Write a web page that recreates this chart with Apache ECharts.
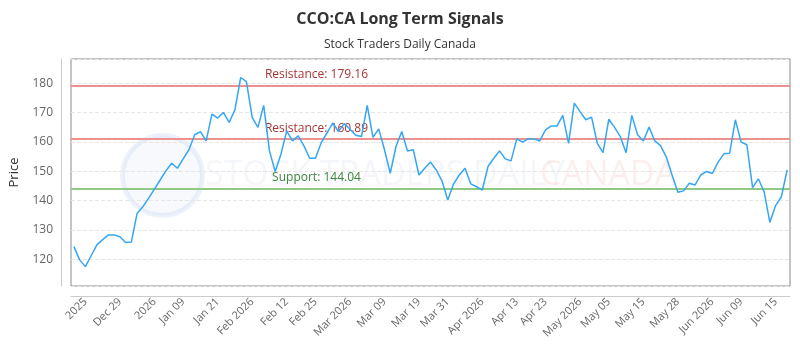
<!DOCTYPE html>
<html>
<head>
<meta charset="utf-8">
<script src="https://cdn.jsdelivr.net/npm/echarts@6/dist/echarts.min.js"></script>
<style>
  html, body { margin: 0; padding: 0; background: #fff; }
  #chart { width: 800px; height: 350px; }
</style>
</head>
<body>
<div id="chart"></div>
<script>
  // closing prices, one per trading day
  var prices = [
    124.3, 119.8, 117.5, 121.2, 124.9, 126.7, 128.3, 128.3, 127.7, 125.7,
    125.9, 135.7, 137.9, 140.8, 143.9, 147.0, 150.1, 152.7, 151.0, 154.2,
    157.3, 162.4, 163.5, 160.3, 169.4, 168.1, 170.0, 166.6, 170.9, 181.9,
    180.5, 168.3, 164.9, 172.4, 156.9, 149.9, 155.8, 163.7, 160.3, 162.0,
    158.6, 154.4, 154.4, 159.7, 163.0, 166.4, 163.5, 166.2, 164.3, 162.2,
    161.8, 172.4, 161.5, 164.4, 157.3, 149.3, 158.4, 163.5, 156.9, 157.3,
    148.7, 151.0, 153.1, 150.4, 146.7, 140.2, 145.6, 148.7, 151.0, 145.7,
    144.7, 143.6, 151.6, 154.4, 156.9, 154.2, 153.5, 161.0, 159.9, 161.0,
    161.0, 160.3, 164.1, 165.4, 165.4, 169.0, 159.5, 173.2, 170.3, 167.5,
    168.4, 159.5, 156.3, 167.7, 164.9, 161.8, 156.3, 169.0, 162.4, 160.3,
    165.0, 160.3, 158.7, 154.8, 148.7, 142.8, 143.3, 145.9, 145.3, 148.7,
    149.9, 149.2, 153.1, 155.9, 156.1, 167.5, 159.9, 159.0, 144.4, 147.4,
    143.0, 132.6, 138.3, 141.3, 150.4
  ];
  var categories = prices.map(function (p, i) { return 'd' + i; });

  // which categories carry a visible date label
  var tickIndex = [2, 8, 14, 19, 25, 31, 37, 42, 48, 54, 60, 65, 71, 77, 82, 88, 93, 99, 105, 111, 116, 122];
  var tickLabels = ['2025', 'Dec 29', '2026', 'Jan 09', 'Jan 21', 'Feb 2026', 'Feb 12', 'Feb 25',
    'Mar 2026', 'Mar 09', 'Mar 19', 'Mar 31', 'Apr 2026', 'Apr 13', 'Apr 23', 'May 2026',
    'May 05', 'May 15', 'May 28', 'Jun 2026', 'Jun 09', 'Jun 15'];

  var resistance = [179.16, 160.89];
  var support = [144.04];

  var font = 'Open Sans';

  var levelLines = [];
  resistance.forEach(function (v) {
    levelLines.push({
      yAxis: v,
      lineStyle: { color: '#ee9090', width: 2, type: 'solid' },
      label: { formatter: 'Resistance: ' + v.toFixed(2), color: '#a83434' }
    });
  });
  support.forEach(function (v) {
    levelLines.push({
      yAxis: v,
      lineStyle: { color: '#90c884', width: 2, type: 'solid' },
      label: { formatter: 'Support: ' + v.toFixed(2), color: '#3d853d' }
    });
  });

  var option = {
    animation: false,
    title: {
      text: 'CCO:CA Long Term Signals',
      subtext: 'Stock Traders Daily Canada',
      left: 'center',
      top: 6,
      itemGap: 12,
      textStyle: { fontFamily: font, fontSize: 16, fontWeight: 'bold', color: '#333' },
      subtextStyle: { fontFamily: font, fontSize: 12, color: '#333' }
    },
    graphic: [
      {
        type: 'circle', left: 120, top: 133, z: 0, silent: true,
        shape: { r: 40 },
        style: { fill: 'rgba(190,205,235,0.12)', stroke: 'rgba(175,195,230,0.22)', lineWidth: 5 }
      },
      {
        type: 'text', left: 205, top: 158, z: 0, silent: true,
        style: { text: 'STOCK TRADERS DAILY', fontFamily: font, fontSize: 34, fill: 'rgba(170,185,215,0.13)' }
      },
      {
        type: 'text', left: 540, top: 158, z: 0, silent: true,
        style: { text: 'CANADA', fontFamily: font, fontSize: 34, fill: 'rgba(240,120,120,0.13)' }
      }
    ],
    grid: {
      left: 67, right: 10, top: 59, bottom: 64,
      show: true, borderColor: '#8a8a8a', borderWidth: 1, backgroundColor: 'transparent'
    },
    xAxis: {
      type: 'category',
      data: categories,
      boundaryGap: true,
      offset: 10,
      axisLine: { lineStyle: { color: '#ccc' } },
      axisTick: { show: false },
      axisLabel: {
        rotate: 45,
        fontFamily: font,
        fontSize: 11,
        color: '#666',
        margin: 4,
        interval: function (index) { return tickIndex.indexOf(index) >= 0; },
        formatter: function (value, index) {
          var k = tickIndex.indexOf(index);
          return k >= 0 ? tickLabels[k] : '';
        }
      },
      splitLine: { show: false }
    },
    yAxis: {
      type: 'value',
      min: 110.9,
      max: 188.2,
      minInterval: 10,
      maxInterval: 10,
      offset: 10,
      name: 'Price',
      nameLocation: 'middle',
      nameGap: 40,
      nameTextStyle: { fontFamily: font, fontSize: 13, color: '#333' },
      axisLine: { show: true, lineStyle: { color: '#ccc' } },
      axisTick: { show: false },
      axisLabel: {
        fontFamily: font,
        fontSize: 12,
        color: '#666',
        formatter: function (v) { return v % 10 === 0 ? String(v) : ''; }
      },
      splitLine: { show: true, lineStyle: { color: '#e6e6e6', type: 'dashed' } }
    },
    series: [
      {
        name: 'CCO:CA',
        type: 'line',
        data: prices,
        showSymbol: false,
        z: 3,
        lineStyle: { color: '#35a6f5', width: 1.5 },
        itemStyle: { color: '#35a6f5' },
        markLine: {
          silent: true,
          symbol: 'none',
          z: 2,
          label: {
            position: 'insideMiddleTop',
            offset: [-114, 0],
            fontFamily: font,
            fontSize: 12
          },
          data: levelLines
        }
      }
    ]
  };

  var myChart = echarts.init(document.getElementById('chart'));
  myChart.setOption(option);
</script>
</body>
</html>
